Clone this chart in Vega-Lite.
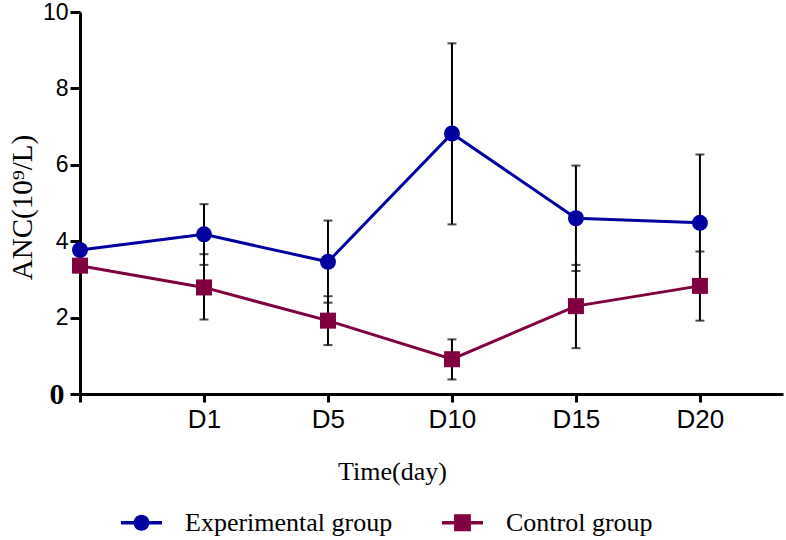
{
  "$schema": "https://vega.github.io/schema/vega-lite/v6.json",
  "width": 703,
  "height": 382,
  "autosize": {"type": "none"},
  "padding": {"left": 80, "top": 12, "right": 3, "bottom": 146},
  "background": "white",
  "config": {
    "view": {"stroke": null},
    "axis": {"grid": false, "domainColor": "black", "domainWidth": 3, "tickColor": "black", "tickWidth": 3, "tickSize": 8, "labelColor": "black", "titleColor": "black"}
  },
  "data": {
    "values": [
      {"day": 0, "group": "Experimental group", "mean": 3.77, "lo": null, "hi": null},
      {"day": 1, "group": "Experimental group", "mean": 4.18, "lo": 3.38, "hi": 4.97},
      {"day": 2, "group": "Experimental group", "mean": 3.46, "lo": 2.39, "hi": 4.54},
      {"day": 3, "group": "Experimental group", "mean": 6.82, "lo": 4.44, "hi": 9.18},
      {"day": 4, "group": "Experimental group", "mean": 4.60, "lo": 3.22, "hi": 5.98},
      {"day": 5, "group": "Experimental group", "mean": 4.48, "lo": 2.70, "hi": 6.27},
      {"day": 0, "group": "Control group", "mean": 3.36, "lo": null, "hi": null},
      {"day": 1, "group": "Control group", "mean": 2.79, "lo": 1.95, "hi": 3.66},
      {"day": 2, "group": "Control group", "mean": 1.92, "lo": 1.28, "hi": 2.56},
      {"day": 3, "group": "Control group", "mean": 0.91, "lo": 0.38, "hi": 1.43},
      {"day": 4, "group": "Control group", "mean": 2.30, "lo": 1.20, "hi": 3.38},
      {"day": 5, "group": "Control group", "mean": 2.83, "lo": 1.92, "hi": 3.73}
    ]
  },
  "encoding": {
    "x": {
      "field": "day",
      "type": "quantitative",
      "scale": {"domain": [0, 5.67], "nice": false, "zero": false},
      "axis": {
        "values": [0, 1, 2, 3, 4, 5],
        "labelExpr": "['', 'D1', 'D5', 'D10', 'D15', 'D20'][datum.value]",
        "labelFont": "Liberation Sans",
        "labelFontSize": 26,
        "labelBaseline": "middle",
        "labelPadding": 17,
        "labelFlush": false,
        "labelOverlap": false,
        "title": "Time(day)",
        "titleFont": "Liberation Serif",
        "titleFontSize": 26,
        "titleFontWeight": "normal",
        "titleX": 312,
        "titleY": 77,
        "titleBaseline": "middle",
        "titleAlign": "center"
      }
    }
  },
  "layer": [
    {
      "mark": {"type": "rule", "color": "black", "strokeWidth": 2},
      "encoding": {
        "y": {
          "field": "lo",
          "type": "quantitative",
          "title": "ANC(10⁹/L)",
          "scale": {"domain": [0, 10], "nice": false},
          "axis": {
            "values": [0, 2, 4, 6, 8, 10],
            "tickSize": 10,
            "labelFont": {"condition": {"test": "datum.value === 0", "value": "Liberation Serif"}, "value": "Liberation Sans"},
            "labelFontSize": {"condition": {"test": "datum.value === 0", "value": 30}, "value": 23},
            "labelFontWeight": {"condition": {"test": "datum.value === 0", "value": "bold"}, "value": "normal"},
            "labelPadding": {"condition": {"test": "datum.value === 0", "value": 6}, "value": 2},
            "titleFont": "Liberation Serif",
            "titleFontSize": 29,
            "titleFontWeight": "normal",
            "titleAngle": -90,
            "titleX": -58,
            "titleY": 195,
            "titleBaseline": "middle",
            "titleAlign": "center"
          }
        },
        "y2": {"field": "hi"},
        "detail": {"field": "group"}
      }
    },
    {
      "mark": {"type": "tick", "orient": "horizontal", "color": "black", "size": 9, "thickness": 2},
      "encoding": {
        "y": {"field": "lo", "type": "quantitative", "title": "ANC(10⁹/L)"}
      }
    },
    {
      "mark": {"type": "tick", "orient": "horizontal", "color": "black", "size": 9, "thickness": 2},
      "encoding": {
        "y": {"field": "hi", "type": "quantitative", "title": "ANC(10⁹/L)"}
      }
    },
    {
      "mark": {"type": "line", "strokeWidth": 3},
      "encoding": {
        "y": {"field": "mean", "type": "quantitative", "title": "ANC(10⁹/L)"},
        "color": {
          "field": "group",
          "type": "nominal",
          "scale": {"domain": ["Experimental group", "Control group"], "range": ["#0000A0", "#800040"]},
          "legend": {
            "title": null,
            "orient": "none",
            "direction": "horizontal",
            "legendX": 41,
            "legendY": 490,
            "padding": 0,
            "symbolSize": 1681,
            "labelFont": "Liberation Serif",
            "labelFontSize": 26,
            "labelColor": "black",
            "labelOffset": 23,
            "labelLimit": 0,
            "columnPadding": 49,
            "encode": {
              "symbols": {
                "update": {
                  "shape": {"signal": "datum.value === 'Experimental group' ? 'M-1,-0.09H1V0.09H-1Z M-0.39,0A0.39,0.39 0 1,1 0.39,0A0.39,0.39 0 1,1 -0.39,0Z' : 'M-1,-0.09H1V0.09H-1Z M-0.41,-0.41H0.41V0.41H-0.41Z'"},
                  "fill": {"signal": "scale('color', datum.value)"},
                  "strokeWidth": {"value": 0},
                  "opacity": {"value": 1}
                }
              }
            }
          }
        }
      }
    },
    {
      "transform": [{"filter": "datum.group === 'Experimental group'"}],
      "mark": {"type": "point", "shape": "circle", "filled": true, "size": 256, "opacity": 1},
      "encoding": {
        "y": {"field": "mean", "type": "quantitative", "title": "ANC(10⁹/L)"},
        "color": {"field": "group", "type": "nominal", "legend": null}
      }
    },
    {
      "transform": [{"filter": "datum.group === 'Control group'"}],
      "mark": {"type": "point", "shape": "square", "filled": true, "size": 256, "opacity": 1},
      "encoding": {
        "y": {"field": "mean", "type": "quantitative", "title": "ANC(10⁹/L)"},
        "color": {"field": "group", "type": "nominal", "legend": null}
      }
    }
  ]
}
